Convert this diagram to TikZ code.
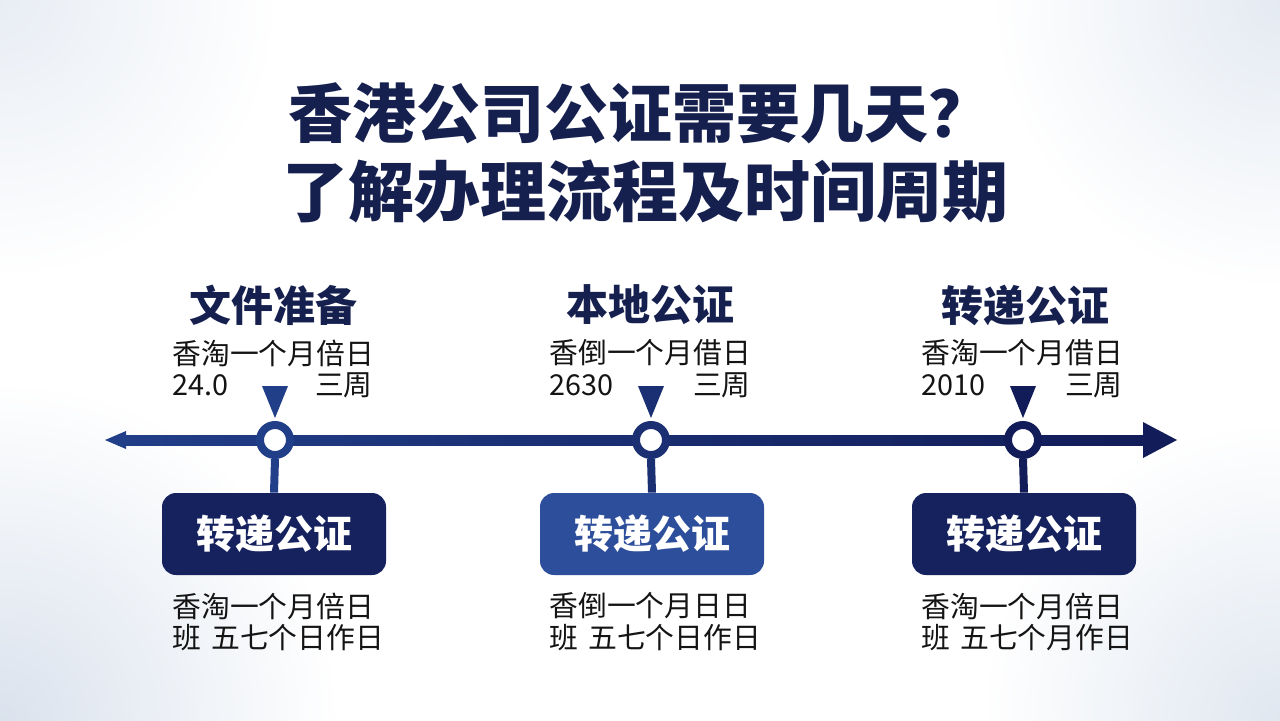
\documentclass[tikz,border=0pt]{standalone}
\usepackage{fontspec}
\newfontfamily\cjk{Noto Sans CJK SC}
\usetikzlibrary{calc}
\definecolor{titlecol}{HTML}{16204F}
\definecolor{navy}{HTML}{1B2F73}
\definecolor{navyL}{HTML}{213E88}
\definecolor{navyD}{HTML}{121C58}
\definecolor{boxdark}{HTML}{15225E}
\definecolor{boxmid}{HTML}{2D4F9B}
\definecolor{txt}{HTML}{141414}
\tikzset{
  titletext/.style={font=\cjk\bfseries, text=titlecol, inner sep=0pt},
  headtext/.style={font=\cjk\bfseries\fontsize{21pt}{24pt}\selectfont, text=titlecol, inner sep=0pt},
  smalltext/.style={font=\cjk\fontsize{14.4pt}{16pt}\selectfont, text=txt, inner sep=0pt},
  ring/.style={circle, draw=#1, line width=4pt, fill=white, minimum size=15pt, inner sep=0pt},
  stepbox/.style={rounded corners=7pt, fill=#1, minimum width=112pt, minimum height=41pt,
     font=\cjk\bfseries\fontsize{19.5pt}{22pt}\selectfont, text=white, inner sep=0pt},
  stem/.style={draw=#1, line width=4pt},
  marker/.style={fill=#1}
}
\begin{document}
\begin{tikzpicture}[x=0.5pt,y=-0.5pt]
\useasboundingbox (0,0) rectangle (1280,720);
\begin{scope}
\clip (0,0) rectangle (1280,720);
\fill[white] (0,0) rectangle (1280,720);
\shade[inner color={rgb,255:red,218;green,226;blue,237}, outer color=white] (0,720) circle (340);
\shade[inner color={rgb,255:red,224;green,231;blue,240}, outer color=white] (1280,720) circle (300);
\shade[inner color={rgb,255:red,228;green,234;blue,242}, outer color=white] (1280,0) circle (290);
\shade[inner color={rgb,255:red,232;green,237;blue,244}, outer color=white] (0,0) circle (280);
\end{scope}

% title
\node[titletext, font=\cjk\bfseries\fontsize{32pt}{36pt}\selectfont] (t1) at (640,113) {香港公司公证需要几天？};
\node[titletext, font=\cjk\bfseries\fontsize{33pt}{38pt}\selectfont] (t2) at (645,192) {了解办理流程及时间周期};

% timeline
\shade[left color=navyL, right color=navyD] (118,435) rectangle (1150,445);
\fill[navyL] (105,440) -- (126,431) -- (126,449) -- cycle;
\fill[navyD] (1177,440) -- (1143,422) -- (1143,458) -- cycle;

% circles
\node[ring=navyL] (c1) at (275,440) {};
\node[ring=navy] (c2) at (651,440) {};
\node[ring=navyD] (c3) at (1023,440) {};

% markers
\fill[marker=navyL] (262,386) -- (288,386) -- (275,418) -- cycle;
\fill[marker=navy] (638,386) -- (664,386) -- (651,418) -- cycle;
\fill[marker=navyD] (1010,386) -- (1036,386) -- (1023,418) -- cycle;

% boxes
\node[stepbox=boxdark] (b1) at (274,534) {转递公证};
\node[stepbox=boxmid] (b2) at (652,534) {转递公证};
\node[stepbox=boxdark] (b3) at (1024,534) {转递公证};
\draw[stem=navyL] (c1.south) -- (b1.north);
\draw[stem=navy] (c2.south) -- (b2.north);
\draw[stem=navyD] (c3.south) -- (b3.north);

% headings
\node[headtext] (h1) at (273,305) {文件准备};
\node[headtext] (h2) at (650,305) {本地公证};
\node[headtext] (h3) at (1025,305) {转递公证};

% top info
\node[smalltext, anchor=west] (a1) at (172,353) {香淘一个月倍日};
\node[smalltext, anchor=west] (a2) at (172,385) {24.0};
\node[smalltext, anchor=east] (a3) at (373,385) {三周};
\node[smalltext, anchor=west] (m1) at (549,353) {香倒一个月借日};
\node[smalltext, anchor=west] (m2) at (549,385) {2630};
\node[smalltext, anchor=east] (m3) at (751,385) {三周};
\node[smalltext, anchor=west] (r1) at (921,353) {香淘一个月借日};
\node[smalltext, anchor=west] (r2) at (921,385) {2010};
\node[smalltext, anchor=east] (r3) at (1123,385) {三周};

% bottom info
\node[smalltext, anchor=west] (d1) at (172,606) {香淘一个月倍日};
\node[smalltext, anchor=west] (d2) at (172,638) {班\hspace{0.35em}五七个日作日};
\node[smalltext, anchor=west] (e1) at (549,606) {香倒一个月日日};
\node[smalltext, anchor=west] (e2) at (549,638) {班\hspace{0.35em}五七个日作日};
\node[smalltext, anchor=west] (f1) at (921,606) {香淘一个月倍日};
\node[smalltext, anchor=west] (f2) at (921,638) {班\hspace{0.35em}五七个月作日};
\end{tikzpicture}
\end{document}
